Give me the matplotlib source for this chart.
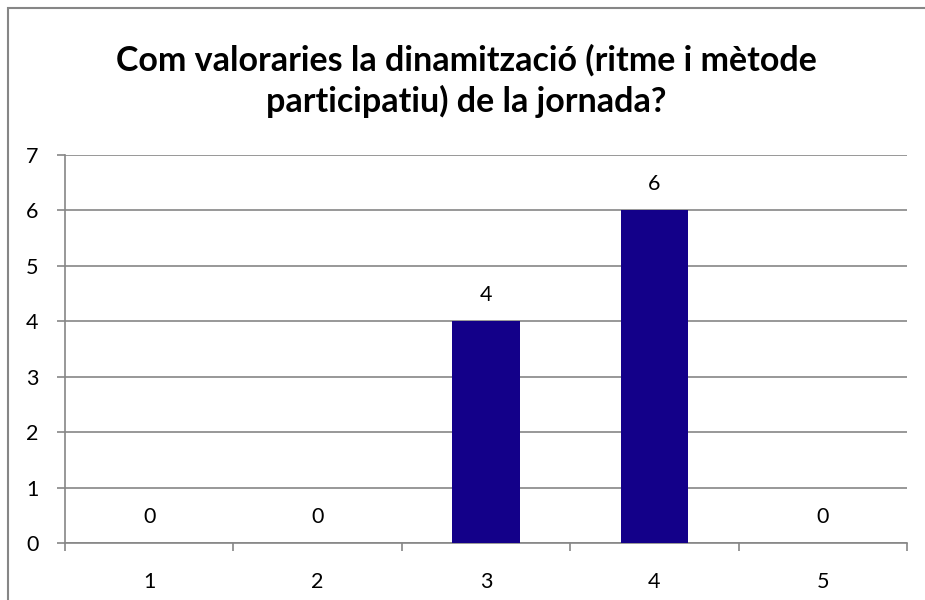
import matplotlib
matplotlib.use("Agg")
import matplotlib.pyplot as plt
from matplotlib.patches import Rectangle
import numpy as np

plt.rcParams['font.family'] = ['Lato', 'DejaVu Sans']

categories = ['1', '2', '3', '4', '5']
counts = [0, 0, 4, 6, 0]
title = 'Com valoraries la dinamització (ritme i mètode\nparticipatiu) de la jornada?'

W, H = 925, 600
fig = plt.figure(figsize=(W / 100, H / 100), dpi=100)
# axes box in pixels: left 65, right 907, top 155, bottom 543
ax = fig.add_axes([65 / W, 1 - 543 / H, (907 - 65) / W, (543 - 155) / H])

grey = '#868686'
x = np.arange(len(categories))
bars = ax.bar(x, counts, width=0.4, color='#130089', zorder=3)

for xi, v in zip(x, counts):
    ax.annotate(str(v), (xi, v), xytext=(0, 19), textcoords='offset points',
                ha='center', va='center', fontsize=15.5, color='black')

ax.set_xlim(-0.5, len(categories) - 0.5)
ax.set_ylim(0, 7)
ax.set_yticks(range(0, 8))
ax.yaxis.grid(True, color=grey, linewidth=1.2, zorder=0)

# ticks on category boundaries, labels at centres
ax.set_xticks(np.arange(-0.5, len(categories)), minor=False)
ax.set_xticklabels([])
ax.set_xticks(x, minor=True)
ax.set_xticklabels(categories, minor=True)
ax.tick_params(axis='x', which='major', length=6, width=1.2, color=grey, direction='out')
ax.tick_params(axis='x', which='minor', length=0, pad=21, labelsize=15.5)
ax.tick_params(axis='y', length=6, width=1.2, color=grey, direction='out', pad=13, labelsize=15.5)

for s in ['top', 'right']:
    ax.spines[s].set_visible(False)
for s in ['left', 'bottom']:
    ax.spines[s].set_color(grey)
    ax.spines[s].set_linewidth(1.2)

fig.text(0.5 * (8 + W) / W, 1 - 81 / H, title, ha='center', va='center',
         fontsize=24.5, fontweight='bold', linespacing=1.3)

fig.patches.append(Rectangle((8 / W, -0.1), 1.2, 1.1 - 8 / H, transform=fig.transFigure,
                             fill=False, edgecolor=grey, linewidth=1.5))

fig.savefig('out.png', dpi=100)
